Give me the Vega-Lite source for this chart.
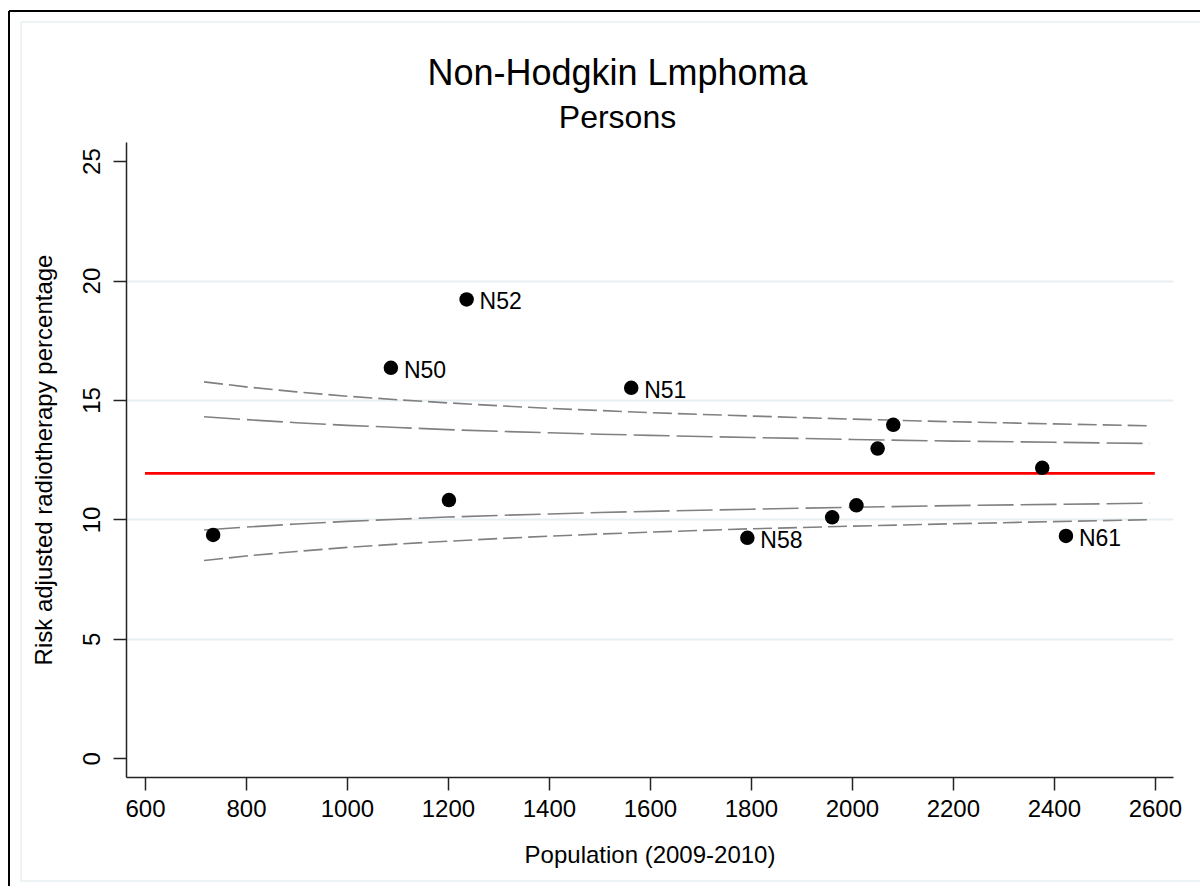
{
  "$schema": "https://vega.github.io/schema/vega-lite/v6.json",
  "width": 1047,
  "height": 635,
  "autosize": {"type": "none"},
  "padding": {"left": 126, "top": 142, "right": 27, "bottom": 109},
  "background": "white",
  "config": {
    "view": {"stroke": null},
    "font": "Liberation Sans",
    "axis": {
      "labelFont": "Liberation Sans",
      "titleFont": "Liberation Sans",
      "labelFontSize": 24,
      "titleFontSize": 24,
      "titleFontWeight": "normal",
      "labelColor": "#000000",
      "titleColor": "#000000",
      "domainColor": "#222222",
      "domainWidth": 1.5,
      "tickColor": "#222222",
      "tickWidth": 1.5,
      "tickSize": 13
    },
    "title": {"font": "Liberation Sans", "fontWeight": "normal", "color": "#000000"}
  },
  "title": {
    "text": "Non-Hodgkin Lmphoma",
    "subtitle": "Persons",
    "fontSize": 36,
    "subtitleFontSize": 32,
    "subtitleColor": "#000000",
    "subtitleFont": "Liberation Sans",
    "subtitlePadding": 10,
    "anchor": "middle",
    "frame": "group",
    "dx": -32,
    "offset": -125
  },
  "datasets": {
    "limits": [
      {"n": 717, "pct": 15.76, "band": "outer", "side": "upper"},
      {"n": 800, "pct": 15.55, "band": "outer", "side": "upper"},
      {"n": 900, "pct": 15.34, "band": "outer", "side": "upper"},
      {"n": 1000, "pct": 15.16, "band": "outer", "side": "upper"},
      {"n": 1100, "pct": 15.01, "band": "outer", "side": "upper"},
      {"n": 1200, "pct": 14.88, "band": "outer", "side": "upper"},
      {"n": 1300, "pct": 14.76, "band": "outer", "side": "upper"},
      {"n": 1400, "pct": 14.65, "band": "outer", "side": "upper"},
      {"n": 1500, "pct": 14.56, "band": "outer", "side": "upper"},
      {"n": 1600, "pct": 14.47, "band": "outer", "side": "upper"},
      {"n": 1800, "pct": 14.33, "band": "outer", "side": "upper"},
      {"n": 2000, "pct": 14.20, "band": "outer", "side": "upper"},
      {"n": 2200, "pct": 14.09, "band": "outer", "side": "upper"},
      {"n": 2400, "pct": 14.00, "band": "outer", "side": "upper"},
      {"n": 2590, "pct": 13.92, "band": "outer", "side": "upper"},
      {"n": 717, "pct": 8.28, "band": "outer", "side": "lower"},
      {"n": 800, "pct": 8.47, "band": "outer", "side": "lower"},
      {"n": 900, "pct": 8.66, "band": "outer", "side": "lower"},
      {"n": 1000, "pct": 8.83, "band": "outer", "side": "lower"},
      {"n": 1100, "pct": 8.97, "band": "outer", "side": "lower"},
      {"n": 1200, "pct": 9.09, "band": "outer", "side": "lower"},
      {"n": 1300, "pct": 9.20, "band": "outer", "side": "lower"},
      {"n": 1400, "pct": 9.30, "band": "outer", "side": "lower"},
      {"n": 1500, "pct": 9.39, "band": "outer", "side": "lower"},
      {"n": 1600, "pct": 9.47, "band": "outer", "side": "lower"},
      {"n": 1800, "pct": 9.61, "band": "outer", "side": "lower"},
      {"n": 2000, "pct": 9.72, "band": "outer", "side": "lower"},
      {"n": 2200, "pct": 9.82, "band": "outer", "side": "lower"},
      {"n": 2400, "pct": 9.91, "band": "outer", "side": "lower"},
      {"n": 2590, "pct": 9.99, "band": "outer", "side": "lower"},
      {"n": 717, "pct": 14.30, "band": "inner", "side": "upper"},
      {"n": 800, "pct": 14.18, "band": "inner", "side": "upper"},
      {"n": 900, "pct": 14.05, "band": "inner", "side": "upper"},
      {"n": 1000, "pct": 13.94, "band": "inner", "side": "upper"},
      {"n": 1100, "pct": 13.85, "band": "inner", "side": "upper"},
      {"n": 1200, "pct": 13.76, "band": "inner", "side": "upper"},
      {"n": 1300, "pct": 13.69, "band": "inner", "side": "upper"},
      {"n": 1400, "pct": 13.63, "band": "inner", "side": "upper"},
      {"n": 1500, "pct": 13.57, "band": "inner", "side": "upper"},
      {"n": 1600, "pct": 13.52, "band": "inner", "side": "upper"},
      {"n": 1800, "pct": 13.43, "band": "inner", "side": "upper"},
      {"n": 2000, "pct": 13.35, "band": "inner", "side": "upper"},
      {"n": 2200, "pct": 13.28, "band": "inner", "side": "upper"},
      {"n": 2400, "pct": 13.23, "band": "inner", "side": "upper"},
      {"n": 2590, "pct": 13.18, "band": "inner", "side": "upper"},
      {"n": 717, "pct": 9.56, "band": "inner", "side": "lower"},
      {"n": 800, "pct": 9.68, "band": "inner", "side": "lower"},
      {"n": 900, "pct": 9.81, "band": "inner", "side": "lower"},
      {"n": 1000, "pct": 9.92, "band": "inner", "side": "lower"},
      {"n": 1100, "pct": 10.01, "band": "inner", "side": "lower"},
      {"n": 1200, "pct": 10.10, "band": "inner", "side": "lower"},
      {"n": 1300, "pct": 10.17, "band": "inner", "side": "lower"},
      {"n": 1400, "pct": 10.23, "band": "inner", "side": "lower"},
      {"n": 1500, "pct": 10.29, "band": "inner", "side": "lower"},
      {"n": 1600, "pct": 10.34, "band": "inner", "side": "lower"},
      {"n": 1800, "pct": 10.43, "band": "inner", "side": "lower"},
      {"n": 2000, "pct": 10.51, "band": "inner", "side": "lower"},
      {"n": 2200, "pct": 10.58, "band": "inner", "side": "lower"},
      {"n": 2400, "pct": 10.63, "band": "inner", "side": "lower"},
      {"n": 2590, "pct": 10.68, "band": "inner", "side": "lower"}
    ],
    "mean": [
      {"n": 600, "pct": 11.93},
      {"n": 2600, "pct": 11.93}
    ],
    "units": [
      {"n": 735, "pct": 9.35, "label": ""},
      {"n": 1087, "pct": 16.35, "label": "N50"},
      {"n": 1202, "pct": 10.81, "label": ""},
      {"n": 1237, "pct": 19.21, "label": "N52"},
      {"n": 1563, "pct": 15.51, "label": "N51"},
      {"n": 1793, "pct": 9.23, "label": "N58"},
      {"n": 1961, "pct": 10.09, "label": ""},
      {"n": 2009, "pct": 10.59, "label": ""},
      {"n": 2051, "pct": 12.97, "label": ""},
      {"n": 2082, "pct": 13.96, "label": ""},
      {"n": 2377, "pct": 12.16, "label": ""},
      {"n": 2424, "pct": 9.31, "label": "N61"}
    ]
  },
  "layer": [
    {
      "data": {"name": "limits"},
      "transform": [{"filter": "datum.band == 'outer'"}],
      "mark": {"type": "line", "color": "#808080", "strokeWidth": 1.6, "strokeDash": [19, 6]},
      "encoding": {
        "x": {
          "field": "n",
          "type": "quantitative",
          "scale": {"domain": [562.4, 2636], "nice": false, "zero": false},
          "axis": {
            "title": "Population (2009-2010)",
            "values": [600, 800, 1000, 1200, 1400, 1600, 1800, 2000, 2200, 2400, 2600],
            "format": "d",
            "grid": false,
            "labelPadding": 7,
            "titlePadding": 22
          }
        },
        "y": {
          "field": "pct",
          "type": "quantitative",
          "scale": {"domain": [-0.78, 25.8], "nice": false, "zero": false},
          "axis": {
            "title": "Risk adjusted radiotherapy percentage",
            "values": [0, 5, 10, 15, 20, 25],
            "labelAngle": -90,
            "labelAlign": "center",
            "labelBaseline": "bottom",
            "labelPadding": 9,
            "titlePadding": 24,
            "grid": true,
            "gridColor": "#E8EFF2",
            "gridWidth": 2.2,
            "gridOpacity": {"condition": {"test": "datum.value == 0 || datum.value == 25", "value": 0}, "value": 1}
          }
        },
        "detail": {"field": "side"}
      }
    },
    {
      "data": {"values": [{"k": 1}]},
      "mark": {"type": "rule", "clip": false, "color": "#E8EFF2", "strokeWidth": 1.5},
      "encoding": {
        "x": {"datum": 354.5, "type": "quantitative"},
        "y": {"datum": 30.82, "type": "quantitative"},
        "y2": {"datum": -5.13}
      }
    },
    {
      "data": {"values": [{"k": 1}]},
      "mark": {"type": "rule", "clip": false, "color": "#E8EFF2", "strokeWidth": 1.5},
      "encoding": {
        "y": {"datum": 30.82, "type": "quantitative"},
        "x": {"datum": 354.5, "type": "quantitative"},
        "x2": {"datum": 2800}
      }
    },
    {
      "data": {"values": [{"k": 1}]},
      "mark": {"type": "rule", "clip": false, "color": "#E8EFF2", "strokeWidth": 1.5},
      "encoding": {
        "y": {"datum": -5.13, "type": "quantitative"},
        "x": {"datum": 354.5, "type": "quantitative"},
        "x2": {"datum": 2800}
      }
    },
    {
      "data": {"values": [{"k": 1}]},
      "mark": {"type": "rule", "clip": false, "color": "#000000", "strokeWidth": 2},
      "encoding": {
        "x": {"datum": 330.7, "type": "quantitative"},
        "y": {"datum": 31.28, "type": "quantitative"},
        "y2": {"datum": -7}
      }
    },
    {
      "data": {"values": [{"k": 1}]},
      "mark": {"type": "rule", "clip": false, "color": "#000000", "strokeWidth": 2},
      "encoding": {
        "y": {"datum": 31.28, "type": "quantitative"},
        "x": {"datum": 330.7, "type": "quantitative"},
        "x2": {"datum": 2800}
      }
    },
    {
      "data": {"name": "limits"},
      "transform": [{"filter": "datum.band == 'inner'"}],
      "mark": {"type": "line", "color": "#808080", "strokeWidth": 1.6, "strokeDash": [36, 7]},
      "encoding": {
        "x": {"field": "n", "type": "quantitative"},
        "y": {"field": "pct", "type": "quantitative"},
        "detail": {"field": "side"}
      }
    },
    {
      "data": {"name": "mean"},
      "mark": {"type": "line", "color": "#FF0000", "strokeWidth": 2.6},
      "encoding": {
        "x": {"field": "n", "type": "quantitative"},
        "y": {"field": "pct", "type": "quantitative"}
      }
    },
    {
      "data": {"name": "units"},
      "mark": {"type": "circle", "color": "#000000", "opacity": 1, "size": 210},
      "encoding": {
        "x": {"field": "n", "type": "quantitative"},
        "y": {"field": "pct", "type": "quantitative"}
      }
    },
    {
      "data": {"name": "units"},
      "mark": {"type": "text", "align": "left", "baseline": "middle", "dx": 13, "dy": 3, "fontSize": 23, "font": "Liberation Sans", "color": "#000000"},
      "encoding": {
        "x": {"field": "n", "type": "quantitative"},
        "y": {"field": "pct", "type": "quantitative"},
        "text": {"field": "label"}
      }
    }
  ]
}
